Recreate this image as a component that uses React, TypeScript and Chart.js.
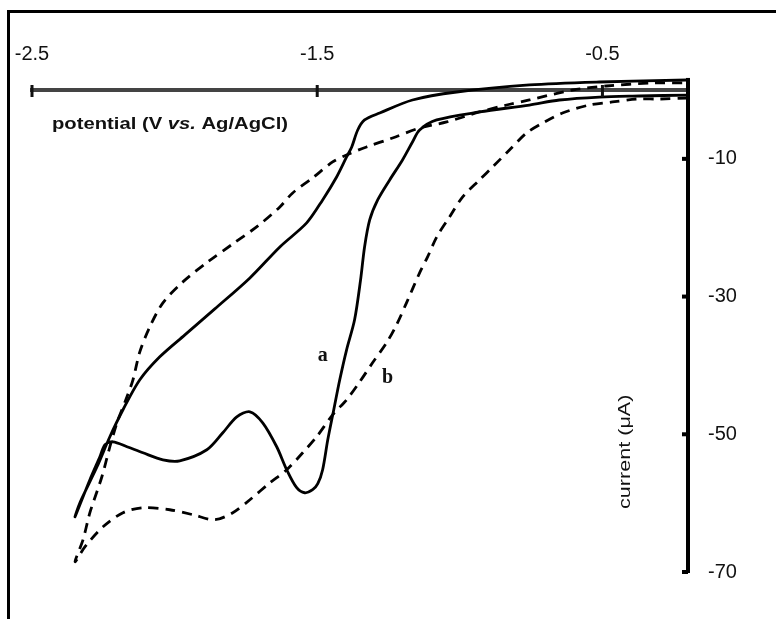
import React, { useEffect, useRef } from "react";
import { Chart, registerables } from "chart.js";

Chart.register(...registerables);

// Axis ranges and ticks
const X_MIN = -2.5;
const X_MAX = -0.2;
const Y_MIN = -70;
const Y_MAX = 0;
const xTickValues = [-2.5, -1.5, -0.5];
const yTickValues = [-10, -30, -50, -70];

// Curve a (solid): cathodic scan then return scan
const aPotential = [
  -0.202, -0.37, -0.511, -0.651, -0.756, -0.931, -1.081, -1.141, -1.166, -1.201,
  -1.246, -1.288, -1.316, -1.334, -1.348, -1.369, -1.397, -1.421, -1.442, -1.463,
  -1.481, -1.498, -1.516, -1.544, -1.572, -1.607, -1.642, -1.691, -1.736, -1.782,
  -1.831, -1.887, -1.982, -2.041, -2.111, -2.167, -2.216, -2.244, -2.262, -2.297,
  -2.349,
  -2.332, -2.272, -2.227, -2.181, -2.122, -2.052, -1.964, -1.859, -1.736, -1.631,
  -1.537, -1.481, -1.432, -1.397, -1.379, -1.358, -1.334, -1.281, -1.166, -1.011,
  -0.756, -0.511, -0.202,
];
const aCurrent = [
  -0.73, -0.87, -1.02, -1.45, -2.18, -3.19, -4.35, -5.81, -7.55, -10.16,
  -13.06, -15.96, -18.87, -22.79, -27.58, -33.38, -37.74, -42.09, -46.44, -50.8,
  -55.15, -57.18, -58.05, -58.49, -57.76, -55.15, -51.81, -48.33, -46.73, -47.46,
  -49.78, -52.25, -53.85, -53.7, -52.69, -51.81, -51.09, -51.52, -53.27, -56.6,
  -61.97,
  -59.94, -54.72, -50.36, -46.44, -42.09, -38.75, -35.56, -31.79, -27.29, -22.79,
  -19.3, -15.96, -12.63, -9.72, -8.27, -5.81, -4.35, -3.34, -1.45, -0.29,
  0.73, 1.16, 1.45,
];

// Curve b (dashed): cathodic scan then return scan
const bPotential = [
  -0.202, -0.3, -0.381, -0.465, -0.546, -0.64, -0.703, -0.766, -0.826, -0.885,
  -0.931, -0.99, -1.036, -1.081, -1.113, -1.141, -1.187, -1.222, -1.257, -1.306,
  -1.351, -1.397, -1.446, -1.502, -1.551, -1.607, -1.666, -1.736, -1.796, -1.859,
  -1.936, -2.017, -2.111, -2.181, -2.251, -2.314, -2.349,
  -2.321, -2.297, -2.255, -2.227, -2.202, -2.167, -2.146, -2.122, -2.087, -2.041,
  -1.971, -1.884, -1.796, -1.708, -1.631, -1.586, -1.516, -1.446, -1.397, -1.327,
  -1.236, -1.141, -1.046, -0.931, -0.836, -0.756, -0.605, -0.486, -0.325, -0.202,
];
const bCurrent = [
  -1.16, -1.31, -1.31, -1.74, -2.18, -3.34, -4.64, -6.24, -8.71, -11.18,
  -13.06, -15.53, -18.43, -21.34, -24.24, -26.56, -30.91, -34.11, -36.72, -39.62,
  -42.38, -44.99, -47.17, -50.36, -52.69, -55.15, -57.04, -59.51, -61.39, -62.41,
  -61.68, -60.96, -60.67, -61.39, -63.43, -66.33, -68.51,
  -65.31, -61.39, -56.17, -51.81, -48.33, -44.56, -42.09, -38.03, -34.40, -30.91,
  -27.87, -24.97, -22.35, -19.74, -16.98, -14.95, -12.77, -10.45, -9.43, -8.27,
  -6.97, -5.52, -4.64, -3.19, -2.18, -1.45, 0, 0.58, 1.02, 1.02,
];

// Curve labels (text, potential, current at baseline)
const curveLabelText = ["a", "b"];
const curveLabelPotential = [-1.481, -1.253];
const curveLabelCurrent = [-39.33, -42.53];

const xTitleParts = ["potential (V ", "vs.", " Ag/AgCl)"];
const yTitle = "current (\u03bcA)";

const SANS = "'Liberation Sans', Arial, Helvetica, sans-serif";
const SERIF = "'Liberation Serif', 'Times New Roman', serif";

export default function App() {
  const ref = useRef<HTMLCanvasElement>(null);

  useEffect(() => {
    const canvas = ref.current;
    if (!canvas) return;
    const toPoints = (xs: number[], ys: number[]) => xs.map((x, i) => ({ x, y: ys[i] }));

    const overlay = {
      id: "overlay",
      beforeDraw(chart: any) {
        const ctx = chart.ctx;
        ctx.save();
        ctx.fillStyle = "#ffffff";
        ctx.fillRect(0, 0, chart.width, chart.height);
        ctx.fillStyle = "#000000";
        ctx.fillRect(7, 10, chart.width - 7, 3);
        ctx.fillRect(7, 10, 3, chart.height - 10);
        ctx.restore();
      },
      afterDatasetsDraw(chart: any) {
        const ctx = chart.ctx;
        const xs = chart.scales.x;
        const ys = chart.scales.y;
        const y0 = ys.getPixelForValue(0);
        const xAxisPos = xs.right;
        ctx.save();
        // x tick marks crossing axis
        ctx.fillStyle = "#111";
        for (const v of xTickValues) {
          const px = xs.getPixelForValue(v);
          ctx.fillRect(px - 1.5, y0 - 5, 3, 12);
        }
        // y tick marks (inward)
        ctx.fillStyle = "#000";
        for (const v of yTickValues) {
          const py = ys.getPixelForValue(v);
          ctx.fillRect(xAxisPos - 6, py - 2, 6, 4);
        }
        // y axis extension above zero
        const yTop = ys.getPixelForValue(1.75);
        ctx.fillRect(xAxisPos - 2, yTop, 4, y0 - yTop);

        // x title with italic "vs."
        ctx.fillStyle = "#111";
        ctx.textBaseline = "alphabetic";
        ctx.textAlign = "left";
        ctx.save();
        ctx.translate(52, 129);
        ctx.scale(1.19, 1);
        let cx = 0;
        xTitleParts.forEach((t, i) => {
          ctx.font = (i === 1 ? "italic bold " : "bold ") + "17px " + SANS;
          ctx.fillText(t, cx, 0);
          cx += ctx.measureText(t).width;
        });
        ctx.restore();

        // y title rotated
        ctx.save();
        ctx.translate(630, 509);
        ctx.rotate(-Math.PI / 2);
        ctx.scale(1.27, 1);
        ctx.font = "17px " + SANS;
        ctx.fillText(yTitle, 0, 0);
        ctx.restore();

        // curve labels
        ctx.font = "bold 20px " + SERIF;
        ctx.textAlign = "center";
        curveLabelText.forEach((t, i) => {
          ctx.fillText(t, xs.getPixelForValue(curveLabelPotential[i]), ys.getPixelForValue(curveLabelCurrent[i]));
        });
        ctx.restore();
      },
    };

    const chart = new Chart(canvas, {
      type: "scatter",
      data: {
        datasets: [
          {
            label: "a",
            data: toPoints(aPotential, aCurrent),
            showLine: true,
            borderColor: "#000",
            borderWidth: 2.8,
            pointRadius: 0,
            tension: 0.3,
            clip: false as any,
          },
          {
            label: "b",
            data: toPoints(bPotential, bCurrent),
            showLine: true,
            borderColor: "#000",
            borderWidth: 2.8,
            borderDash: [10, 7],
            pointRadius: 0,
            tension: 0.3,
            clip: false as any,
          },
        ],
      },
      options: {
        responsive: false,
        animation: false,
        events: [],
        layout: { padding: { left: 32, top: 0, right: 0, bottom: 47 } },
        plugins: { legend: { display: false }, tooltip: { enabled: false } },
        scales: {
          x: {
            type: "linear",
            position: "top",
            min: X_MIN,
            max: X_MAX,
            afterBuildTicks: (s: any) => {
              s.ticks = xTickValues.map((v) => ({ value: v }));
            },
            afterFit: (s: any) => {
              s.height = 90;
              s.paddingLeft = 0;
              s.paddingRight = 0;
            },
            grid: { display: false, drawTicks: false },
            border: { display: true, color: "#444", width: 4 },
            ticks: {
              color: "#111",
              font: { family: SANS, size: 20 },
              padding: 24,
              maxRotation: 0,
              autoSkip: false,
              callback: (v: any) => String(v),
            },
          },
          y: {
            type: "linear",
            position: "right",
            min: Y_MIN,
            max: Y_MAX,
            afterBuildTicks: (s: any) => {
              s.ticks = yTickValues.map((v) => ({ value: v }));
            },
            afterFit: (s: any) => {
              s.width = 88;
            },
            grid: { display: false, drawTicks: false },
            border: { display: true, color: "#000", width: 4 },
            ticks: {
              color: "#111",
              font: { family: SANS, size: 20 },
              padding: 20,
              autoSkip: false,
              callback: (v: any) => String(v),
            },
          },
        },
      } as any,
      plugins: [overlay],
    });
    return () => chart.destroy();
  }, []);

  return (
    <canvas
      ref={ref}
      width={776}
      height={619}
      style={{ position: "absolute", left: 0, top: 0, width: 776, height: 619, display: "block" }}
    />
  );
}
